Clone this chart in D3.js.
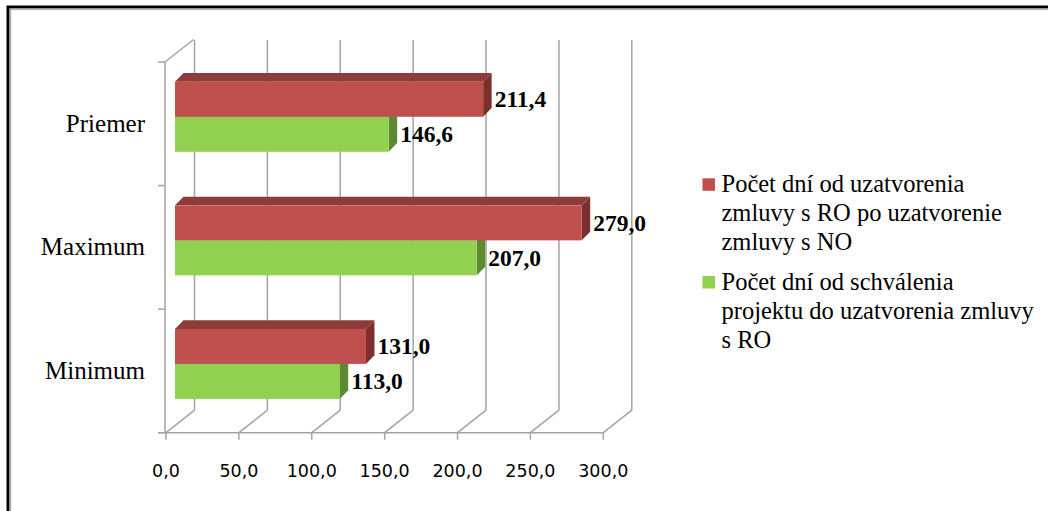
<!DOCTYPE html>
<html><head><meta charset="utf-8">
<script src="https://cdn.jsdelivr.net/npm/d3@7"></script>
<style>
html,body{margin:0;padding:0;background:#fff;}svg{display:block;}
.serif{font-family:"Liberation Serif","Times New Roman","DejaVu Serif",serif;}
.sans{font-family:"DejaVu Sans","Verdana",sans-serif;}
</style>
</head><body>
<svg id="c" width="1048" height="511"></svg>
<script>
const categories = ["Priemer", "Maximum", "Minimum"];
const seriesNames = ["Počet dní od uzatvorenia zmluvy s RO po uzatvorenie zmluvy s NO",
                     "Počet dní od schválenia projektu do uzatvorenia zmluvy s RO"];
const redValues = [211.4, 279.0, 131.0];
const greenValues = [146.6, 207.0, 113.0];
const tickValues = [0, 50, 100, 150, 200, 250, 300];
const legendLines = [
  ["Počet dní od uzatvorenia", "zmluvy s RO po uzatvorenie", "zmluvy s NO"],
  ["Počet dní od schválenia", "projektu do uzatvorenia zmluvy", "s RO"]
];

const fmt = v => v.toFixed(1).replace(".", ",");
const svg = d3.select("#c");

// frame
svg.append("rect").attr("x", 8).attr("y", 7).attr("width", 1060).attr("height", 520)
  .attr("fill", "none").attr("stroke", "#000").attr("stroke-width", 3);
svg.append("rect").attr("x", 10.5).attr("y", 9.3).attr("width", 1060).attr("height", 520)
  .attr("fill", "none").attr("stroke", "#b0b0b0").attr("stroke-width", 1.5);

// geometry
const fx0 = 166, fyBase = 432.7, fyTop = 62;
const depth = {dx: 28.5, dy: -22.5};
const x = d3.scaleLinear().domain([0, 300]).range([fx0, 603.3]);
const y = d3.scaleBand().domain(categories).range([fyTop, fyBase]);
const gridColor = "#a3a3a3";
const g = svg.append("g");

// back gridlines
tickValues.forEach(t => {
  const bx = x(t) + depth.dx;
  g.append("line").attr("x1", bx).attr("x2", bx).attr("y1", 40).attr("y2", fyBase + depth.dy)
    .attr("stroke", gridColor).attr("stroke-width", 1.5);
  g.append("line").attr("x1", bx).attr("y1", fyBase + depth.dy).attr("x2", x(t)).attr("y2", fyBase)
    .attr("stroke", gridColor).attr("stroke-width", 1.5);
  g.append("line").attr("x1", x(t)).attr("x2", x(t)).attr("y1", fyBase).attr("y2", fyBase + 7)
    .attr("stroke", gridColor).attr("stroke-width", 1.5);
});
// front baseline
g.append("line").attr("x1", fx0 - 8).attr("x2", x(300)).attr("y1", fyBase).attr("y2", fyBase)
  .attr("stroke", gridColor).attr("stroke-width", 1.5);
// left axis
g.append("line").attr("x1", fx0 - 1).attr("x2", fx0 - 1).attr("y1", fyTop).attr("y2", fyBase)
  .attr("stroke", gridColor).attr("stroke-width", 1.5);
g.append("line").attr("x1", fx0 - 1).attr("y1", fyTop).attr("x2", fx0 - 1 + depth.dx).attr("y2", fyTop + depth.dy)
  .attr("stroke", gridColor).attr("stroke-width", 1.5);
const leftTicks = categories.map(c => y(c)).concat([fyBase]);
leftTicks.forEach(ty => {
  g.append("line").attr("x1", fx0 - 8).attr("x2", fx0 - 1).attr("y1", ty).attr("y2", ty)
    .attr("stroke", gridColor).attr("stroke-width", 1.5);
});

// bars
const barOff = {dx: 9, dy: -7};
const barDepth = {dx: 8.5, dy: -8.7};
const barH = 35;
const bars = svg.append("g");
function bar(v, yTop, front, top, side, drawTop) {
  const x0 = x(0) + barOff.dx, x1 = x(v) + barOff.dx;
  const y0 = yTop, y1 = yTop + barH;
  bars.append("path").attr("d",
    `M${x1},${y0}L${x1 + barDepth.dx},${y0 + barDepth.dy}L${x1 + barDepth.dx},${y1 + barDepth.dy}L${x1},${y1}Z`)
    .attr("fill", side);
  if (drawTop) bars.append("path").attr("d",
    `M${x0},${y0}L${x0 + barDepth.dx},${y0 + barDepth.dy}L${x1 + barDepth.dx},${y0 + barDepth.dy}L${x1},${y0}Z`)
    .attr("fill", top);
  bars.append("rect").attr("x", x0).attr("y", y0).attr("width", x1 - x0).attr("height", barH)
    .attr("fill", front);
  return {xe: x1 + barDepth.dx, yc: (y0 + y1) / 2};
}
const labels = [];
categories.forEach((c, i) => {
  const center = y(c) + y.bandwidth() / 2 + barOff.dy;
  const gEnd = bar(greenValues[i], center, "#92D050", "#6f9e3c", "#5F8A34", true);
  labels.push({x: gEnd.xe + 3, y: gEnd.yc, t: fmt(greenValues[i])});
  const rEnd = bar(redValues[i], center - barH, "#C0504D", "#8E3C3A", "#7B302E", true);
  labels.push({x: rEnd.xe + 3, y: rEnd.yc, t: fmt(redValues[i])});
});
labels.forEach(l => {
  svg.append("text").attr("class", "serif").attr("x", l.x).attr("y", l.y + 8)
    .attr("font-weight", "bold")
    .attr("font-size", 23.5).attr("fill", "#000").text(l.t);
});

// category labels
categories.forEach(c => {
  svg.append("text").attr("class", "serif").attr("x", 145).attr("y", y(c) + y.bandwidth() / 2 + 8)
    .attr("text-anchor", "end")
    .attr("font-size", 25).attr("fill", "#000").text(c);
});

// x tick labels
tickValues.forEach(t => {
  svg.append("text").attr("class", "sans").attr("x", x(t)).attr("y", 476.5).attr("text-anchor", "middle")
    .attr("font-size", 17.5)
    .attr("fill", "#000").text(fmt(t));
});

// legend
const legColors = ["#C0504D", "#92D050"];
const legY = [192.3, 290];
legendLines.forEach((lines, i) => {
  svg.append("rect").attr("x", 702.5).attr("y", legY[i] - 14).attr("width", 12.5).attr("height", 12.5)
    .attr("fill", legColors[i]).append("title").text(seriesNames[i]);
  lines.forEach((ln, j) => {
    svg.append("text").attr("class", "serif").attr("x", 721.5).attr("y", legY[i] + j * 28.8)
      .attr("font-size", 24.5).attr("fill", "#000").text(ln);
  });
});
</script>
</body></html>
